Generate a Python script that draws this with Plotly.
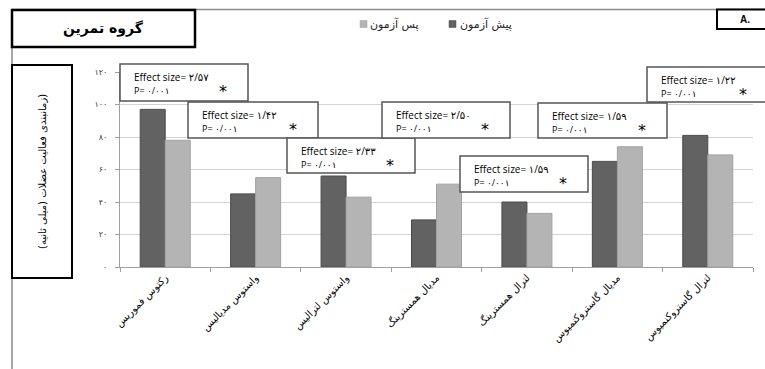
import plotly.graph_objects as go

# Muscle groups (x categories)
categories = [
    "رکتوس فموریس",
    "واستوس مدیالیس",
    "واستوس لترالیس",
    "مدیال همسترینگ",
    "لترال همسترینگ",
    "مدیال گاستروکنمیوس",
    "لترال گاستروکنمیوس",
]
# Mean values (ms)
pre_test = [97, 45, 56, 29, 40, 65, 81]
post_test = [78, 55, 43, 51, 33, 74, 69]
# Effect sizes and p-values per muscle
effect_sizes = ["۲/۵۷", "۱/۴۲", "۲/۳۳", "۲/۵۰", "۱/۵۹", "۱/۵۹", "۱/۲۲"]
p_values = ["۰/۰۰۱"] * 7
# Y axis ticks
y_tickvals = [0, 20, 40, 60, 80, 100, 120]
y_ticktext = ["۰", "۲۰", "۴۰", "۶۰", "۸۰", "۱۰۰", "۱۲۰"]

series_names = ["پیش آزمون", "پس آزمون"]
series_colors = ["#626262", "#b4b4b4"]
series_edges = ["#4a4a4a", "#a2a2a2"]

W, H = 765, 369
L, R, T, B = 120, 12, 72, 102
PW, PH = W - L - R, H - T - B

def px(x):
    return (x - L) / PW

def py(y):
    return (H - B - y) / PH

FA = "DejaVu Sans"
LAT = "Open Sans, DejaVu Sans"

fig = go.Figure()
for name, vals, col, edge in zip(series_names, [pre_test, post_test], series_colors, series_edges):
    fig.add_trace(go.Bar(
        x=categories, y=vals, name=name,
        marker=dict(color=col, line=dict(color=edge, width=1)),
    ))

shapes = []
annotations = []

def rect(x0, y0, x1, y1, color, width, fill=None):
    shapes.append(dict(
        type="rect", xref="paper", yref="paper",
        x0=px(x0), x1=px(x1), y0=py(y1), y1=py(y0),
        line=dict(color=color, width=width),
        fillcolor=fill if fill else "rgba(0,0,0,0)", layer="above",
    ))

def line(x0, y0, x1, y1, color, width):
    shapes.append(dict(
        type="line", xref="paper", yref="paper",
        x0=px(x0), x1=px(x1), y0=py(y0), y1=py(y1),
        line=dict(color=color, width=width), layer="above",
    ))

def text(x, y, s, size, font=FA, xanchor="center", color="black", angle=0, align="center"):
    annotations.append(dict(
        x=px(x), y=py(y), xref="paper", yref="paper", text=s,
        showarrow=False, xanchor=xanchor, yanchor="middle", textangle=angle,
        align=align, font=dict(family=font, size=size, color=color),
    ))

# Frame lines
line(12, 9.5, 765, 9.5, "#8a8a8a", 1.5)
line(12, 47, 12, 369, "#8a8a8a", 1.5)

# Group title box
rect(12, 10, 195, 47, "black", 2.5, "white")
text(103, 29, "<b>گروه تمرین</b>", 14)

# Panel label
rect(717, 9.5, 772, 29, "black", 2, "white")
text(745, 19, "<b>A.</b>", 10, font="Liberation Sans")

# Legend: small swatch followed by series name
legend_pos = [(449, 458), (360, 368)]
for (sx, tx), name, col, edge in zip(legend_pos, series_names, series_colors, series_edges):
    shapes.append(dict(
        type="rect", xref="paper", yref="paper",
        x0=px(sx), x1=px(sx + 7), y0=py(27.5), y1=py(20.5),
        fillcolor=col, line=dict(color=edge, width=0.5), layer="above",
    ))
    text(tx, 24, name, 11, xanchor="left", color="#222")

# Y axis title box
rect(12, 65, 72, 278, "black", 2, "white")
text(42, 172, "\u200f(زمانبندی فعالیت عضلات (میلی ثانیه)\u200f", 10, angle=-90)

# Effect-size boxes: (left, top, right, bottom)
boxes = [
    (120, 64, 248, 101),
    (188, 102, 318, 138),
    (287, 138, 415, 173),
    (382, 102, 510, 138),
    (460, 156, 588, 192),
    (538, 103, 667, 138),
    (647, 67, 768, 102),
]
for (x0, y0, x1, y1), es, pv in zip(boxes, effect_sizes, p_values):
    rect(x0, y0, x1, y1, "#555555", 1.5, "white")
    text(x0 + 12, y0 + 19,
         "Effect size= " + es + "<br><span style='font-size:9px'>P= " + pv + "</span>",
         10, font=LAT, xanchor="left", align="left")
    text(x1 - 25, y0 + 27, "*", 16, font="DejaVu Sans", xanchor="center")

fig.update_layout(
    width=W, height=H,
    margin=dict(l=L, r=R, t=T, b=B),
    paper_bgcolor="white", plot_bgcolor="white",
    barmode="group", bargap=0.447, bargroupgap=0,
    showlegend=False,
    shapes=shapes, annotations=annotations,
    xaxis=dict(
        showline=True, linecolor="#a0a0a0", linewidth=1,
        ticks="outside", ticklen=4, tickcolor="#a0a0a0", tickson="boundaries",
        tickangle=-45, tickfont=dict(family=FA, size=10, color="black"),
        showgrid=False,
    ),
    yaxis=dict(
        range=[0, 120], tickvals=y_tickvals, ticktext=y_ticktext,
        showline=True, linecolor="#a0a0a0", linewidth=1,
        ticks="outside", ticklen=4, tickcolor="#a0a0a0",
        ticklabelstandoff=6,
        tickfont=dict(family=FA, size=8, color="#333"),
        showgrid=True, gridcolor="#d4d4d4", gridwidth=1, zeroline=False,
    ),
)

fig.write_html("out.html")
